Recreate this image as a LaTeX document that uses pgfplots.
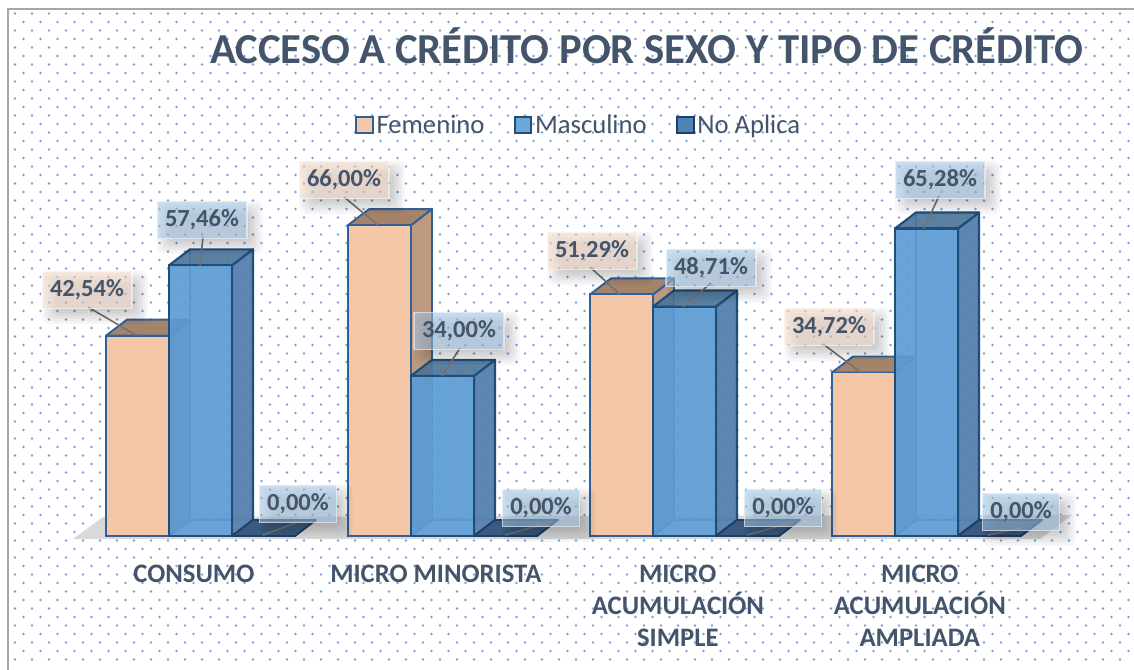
\documentclass[border=0pt]{standalone}
\usepackage{pgfplots}
\pgfplotsset{compat=1.18}
\usepackage{fontspec}
\setmainfont{Carlito}
\definecolor{ink}{HTML}{44546A}
\definecolor{dotc}{HTML}{7F9FE3}
\definecolor{femfront}{HTML}{F5C7A9}
\definecolor{femside}{HTML}{BD9A80}
\definecolor{femtop}{HTML}{A5836B}
\definecolor{femedge}{HTML}{2F6097}
\definecolor{mascfront}{HTML}{5B9BD5}
\definecolor{mascside}{HTML}{5480AB}
\definecolor{masctop}{HTML}{4B7398}
\definecolor{mascedge}{HTML}{1F4E79}
\definecolor{mascinner}{HTML}{4A86C0}
\definecolor{natop}{HTML}{3A5A80}
\definecolor{naedge}{HTML}{1E3F66}
\pgfplotstableread{
x v
200.5 42.54
442.5 66.00
684.5 51.29
926.5 34.72
}\fem
\pgfplotstableread{
x v
200.5 57.46
442.5 34.00
684.5 48.71
926.5 65.28
}\masc
\pgfplotstableread{
x v
200.5 0.00
442.5 0.00
684.5 0.00
926.5 0.00
}\noaplica
\pgfplotstableread{
x y t
87 52.65 42,54
344 76.00 66,00
592 60.93 51,29
829 44.80 34,72
}\femlab
\pgfplotstableread{
x y t
202 67.50 57,46
459 43.95 34,00
711 57.32 48,71
940 76.00 65,28
}\masclab
\pgfplotstableread{
x y t
298 7.22 0,00
541 6.37 0,00
783 6.37 0,00
1021 5.52 0,00
}\nalab
\newcommand\femdepth[2]{%
 \pgfmathsetmacro\Rr{#1+63}\pgfmathsetmacro\LB{#1+21}\pgfmathsetmacro\RB{#1+84}\pgfmathsetmacro\Tt{#2+3.4}%
 \addplot[forget plot,fill=femside,draw=femedge,line width=1.4pt,line join=round] coordinates {(\Rr,0)(\RB,3.4)(\RB,\Tt)(\Rr,#2)} --cycle;
 \addplot[forget plot,fill=femtop,draw=femedge,line width=1.4pt,line join=round] coordinates {(#1,#2)(\LB,\Tt)(\RB,\Tt)(\Rr,#2)} --cycle;
}
\newcommand\mascdepth[2]{%
 \pgfmathsetmacro\Rr{#1+63}\pgfmathsetmacro\LB{#1+21}\pgfmathsetmacro\RB{#1+84}\pgfmathsetmacro\Tt{#2+3.4}%
 \addplot[forget plot,fill=mascfront,fill opacity=.30,draw=mascinner,line width=1pt,line join=round] coordinates {(\LB,3.4)(\RB,3.4)(\RB,\Tt)(\LB,\Tt)} --cycle;
 \addplot[forget plot,fill=mascfront,fill opacity=.25,draw=mascinner,line width=1pt,line join=round] coordinates {(#1,0)(\LB,3.4)(\LB,\Tt)(#1,#2)} --cycle;
 \addplot[forget plot,fill=mascside,fill opacity=.92,draw=mascedge,line width=1.6pt,line join=round] coordinates {(\Rr,0)(\RB,3.4)(\RB,\Tt)(\Rr,#2)} --cycle;
 \addplot[forget plot,fill=masctop,fill opacity=.88,draw=mascedge,line width=1.6pt,line join=round] coordinates {(#1,#2)(\LB,\Tt)(\RB,\Tt)(\Rr,#2)} --cycle;
}
\newcommand\nadepth[1]{%
 \pgfmathsetmacro\Rr{#1+63}\pgfmathsetmacro\LB{#1+21}\pgfmathsetmacro\RB{#1+84}%
 \addplot[forget plot,fill=natop,draw=naedge,line width=1.4pt,line join=round] coordinates {(#1,0)(\LB,3.4)(\RB,3.4)(\Rr,0)} --cycle;
}
\pgfplotsset{
 lab/.style={forget plot,draw=none,mark=none,
  nodes near coords={\pgfplotspointmeta\%},
  point meta=explicit symbolic,
  every node near coord/.append style={anchor=center,yshift=-1.5pt,font=\fontsize{18.4}{20}\selectfont\bfseries,
   text=ink,inner xsep=6pt,inner ysep=0pt,minimum height=28pt,text opacity=1,
   fill=#1,fill opacity=.55,draw=white,draw opacity=.5,line width=1pt}},
 shlayer/.style 2 args={forget plot,draw=none,mark=none,
  nodes near coords={},point meta=explicit symbolic,
  every node near coord/.append style={anchor=center,xshift=6pt,yshift=-7pt,
   minimum width=#1,minimum height=#2,inner sep=0pt,rounded corners=5pt,
   fill=black,fill opacity=.035,draw=none}},
 lead/.style={forget plot,draw=gray!90!black,line width=1.2pt}
}
\newcommand\shadowset[2]{%
 \addplot[shlayer={#2+12pt}{40pt}] table[x=x,y=y,meta=t] {#1};
 \addplot[shlayer={#2+8pt}{36pt}] table[x=x,y=y,meta=t] {#1};
 \addplot[shlayer={#2+4pt}{32pt}] table[x=x,y=y,meta=t] {#1};
 \addplot[shlayer={#2}{28pt}] table[x=x,y=y,meta=t] {#1};
 \addplot[shlayer={#2-4pt}{24pt}] table[x=x,y=y,meta=t] {#1};
 \addplot[shlayer={#2-8pt}{20pt}] table[x=x,y=y,meta=t] {#1};
}
\begin{document}
\begin{tikzpicture}
\fill[white] (0,0) rectangle (850.5pt,502.5pt);
\begin{scope}[x=.75pt,y=-.75pt,yshift=502.5pt]
 \foreach \r in {0,...,76}{%
  \pgfmathsetmacro\yy{13.5+8.5*\r}%
  \pgfmathsetmacro\xx{15+8.5*mod(\r,2)}%
  \draw[dotc,line width=2.2pt,line cap=round,dash pattern=on 0pt off 12.75pt] (\xx,\yy) -- (1134,\yy);
 }
 \draw[black!35,line width=1.5pt] (7.5,670) -- (7.5,9) -- (1134,9);
\end{scope}
\begin{axis}[
 at={(0,0)},anchor=south west,scale only axis,width=850.5pt,height=502.5pt,
 xmin=0,xmax=1134,ymin=-28.45,ymax=113.80,clip=false,
 axis line style={draw=none},major tick length=0pt,ytick=\empty,
 xtick={200.5,442.5,684.5,926.5},
 xticklabels={CONSUMO,MICRO MINORISTA,{MICRO\\ACUMULACIÓN\\SIMPLE},{MICRO\\ACUMULACIÓN\\AMPLIADA}},
 xticklabel style={align=center,text=ink,font=\fontsize{20}{24}\selectfont\bfseries,yshift=82pt,xshift=-5pt},
 title={ACCESO A CRÉDITO POR SEXO Y TIPO DE CRÉDITO},
 title style={at={(0.5705,0.9195)},anchor=center,text=ink,font=\fontsize{32}{36}\selectfont\bfseries},
 legend columns=3,
 legend style={at={(0.5106,0.8134)},anchor=center,draw=none,fill=none,text=ink,
   font=\fontsize{20}{22}\selectfont,/tikz/every even column/.append style={column sep=20pt},
   inner sep=0pt},
 legend image code/.code={\draw[#1,line width=1.5pt] (0pt,-6pt) rectangle (12.5pt,6pt);},
]
\addplot[forget plot,fill=black!15,draw=none] coordinates {(73,-0.64)(103,4.03)(1072,4.46)(1040,-0.64)} --cycle;
\femdepth{106}{42.54}\femdepth{348}{66.00}\femdepth{590}{51.29}\femdepth{832}{34.72}
\addplot[ybar,bar width=47.25pt,bar shift=-47.25pt,fill=femfront,draw=femedge,line width=1.4pt] table[x=x,y=v] {\fem};
\addlegendentry{Femenino}
\mascdepth{169}{57.46}\mascdepth{411}{34.00}\mascdepth{653}{48.71}\mascdepth{895}{65.28}
\addplot[ybar,bar width=47.25pt,bar shift=0pt,fill=mascfront,fill opacity=.88,draw=mascedge,line width=1.6pt] table[x=x,y=v] {\masc};
\addlegendentry{Masculino}
\nadepth{232}\nadepth{474}\nadepth{716}\nadepth{958}
\addplot[ybar,bar width=47.25pt,bar shift=47.25pt,fill=mascfront!85!black,draw=naedge,line width=1.6pt] table[x=x,y=v] {\noaplica};
\addlegendentry{No Aplica}
\addplot[lead] coordinates {(88,48.6)(137,42.54)};
\addplot[lead] coordinates {(203,63.5)(200,57.46)};
\addplot[lead] coordinates {(344,71.97)(378,66)};
\addplot[lead] coordinates {(460,39.9)(442,34)};
\addplot[lead] coordinates {(590,57.1)(620,51.29)};
\addplot[lead] coordinates {(711,53.7)(683,48.71)};
\addplot[lead] coordinates {(823,40.76)(861,34.72)};
\addplot[lead] coordinates {(939,72.2)(924,65.28)};
\addplot[lead] coordinates {(298,2.97)(263,0.2)};
\addplot[lead] coordinates {(541,2.34)(505,0.2)};
\addplot[lead] coordinates {(783,2.34)(747,0.2)};
\addplot[lead] coordinates {(1021,1.7)(988,0.2)};
\shadowset{\femlab}{67pt}
\shadowset{\masclab}{67pt}
\shadowset{\nalab}{58pt}
\addplot[lab=femfront!60!white] table[x=x,y=y,meta=t] {\femlab};
\addplot[lab=mascfront!55!white] table[x=x,y=y,meta=t] {\masclab};
\addplot[lab=mascfront!55!white] table[x=x,y=y,meta=t] {\nalab};
\end{axis}
\pgfresetboundingbox
\path[use as bounding box] (0,0) rectangle (850.5pt,502.5pt);
\end{tikzpicture}
\end{document}
